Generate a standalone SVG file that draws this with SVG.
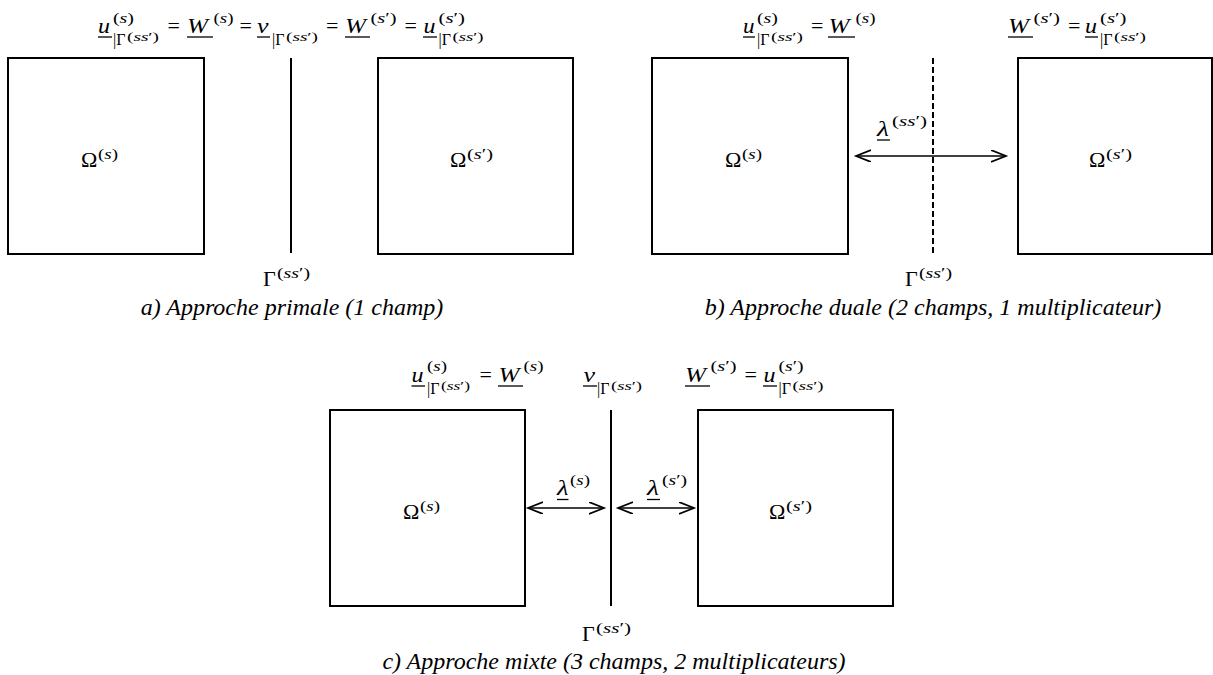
<svg xmlns="http://www.w3.org/2000/svg" width="1213" height="675" viewBox="0 0 1213 675">
<style>
text{font-family:"Liberation Serif","DejaVu Serif",serif;fill:#000}
.m{font-size:22px;font-style:italic}
.r{font-size:22px}
.sp{font-size:15px}
.sb{font-size:16px}
.ss{font-size:12px}
.i{font-style:italic}
.cap{font-size:24px;font-style:italic;text-anchor:middle}
.box{fill:none;stroke:#000;stroke-width:2}
.ln{stroke:#000;stroke-width:2}
.ul{stroke:#000;stroke-width:1.3}
.dash{stroke:#000;stroke-width:2;stroke-dasharray:6 3}
.arr{stroke:#000;stroke-width:1.7;fill:none;marker-start:url(#ah);marker-end:url(#ah)}
</style>
<defs>
<marker id="ah" markerUnits="userSpaceOnUse" markerWidth="18" markerHeight="14" refX="15" refY="6" orient="auto-start-reverse" viewBox="0 0 18 14">
<path d="M0,0 L15,6 L0,12" fill="none" stroke="#000" stroke-width="1.7"/>
</marker>
</defs>

<!-- a) -->
<g id="a-omega-s">
<rect class="box" x="8" y="58" width="196" height="196"/>
<text class="r" x="81" y="167">Ω</text>
<text class="sp" x="98" y="159" textLength="20" lengthAdjust="spacingAndGlyphs">(<tspan class="i">s</tspan>)</text>
</g>
<g id="a-gamma">
<line class="ln" x1="291" y1="58" x2="291" y2="253"/>
<text class="r" x="263" y="286">Γ</text>
<text class="sp" x="277" y="278" textLength="33" lengthAdjust="spacingAndGlyphs">(<tspan class="i">ss</tspan>′)</text>
</g>
<g id="a-omega-s2">
<rect class="box" x="378" y="58" width="195" height="196"/>
<text class="r" x="450" y="167">Ω</text>
<text class="sp" x="467" y="159" textLength="26" lengthAdjust="spacingAndGlyphs">(<tspan class="i">s</tspan>′)</text>
</g>
<g id="a-formula">
<text class="m" x="98" y="33" textLength="12" lengthAdjust="spacingAndGlyphs">u</text><line class="ul" x1="98" y1="37" x2="112" y2="37"/>
<text class="sp" x="113" y="23" textLength="21" lengthAdjust="spacingAndGlyphs">(<tspan class="i">s</tspan>)</text>
<text class="sb" x="113" y="45">|Γ</text><text class="ss" x="127" y="41" textLength="32" lengthAdjust="spacingAndGlyphs">(<tspan class="i">ss</tspan>′)</text>
<text class="r" x="167.5" y="33">=</text>
<text class="m" x="187" y="33" textLength="21" lengthAdjust="spacingAndGlyphs">W</text><line class="ul" x1="187" y1="37" x2="213" y2="37"/>
<text class="sp" x="213.5" y="23" textLength="20" lengthAdjust="spacingAndGlyphs">(<tspan class="i">s</tspan>)</text>
<text class="r" x="239.5" y="33">=</text>
<text class="m" x="257" y="33" textLength="11.5" lengthAdjust="spacingAndGlyphs">v</text><line class="ul" x1="257" y1="37" x2="270" y2="37"/>
<text class="sb" x="272" y="45">|Γ</text><text class="ss" x="286" y="41" textLength="32" lengthAdjust="spacingAndGlyphs">(<tspan class="i">ss</tspan>′)</text>
<text class="r" x="326" y="33">=</text>
<text class="m" x="345" y="33" textLength="21" lengthAdjust="spacingAndGlyphs">W</text><line class="ul" x1="345" y1="37" x2="370" y2="37"/>
<text class="sp" x="370.5" y="23" textLength="26" lengthAdjust="spacingAndGlyphs">(<tspan class="i">s</tspan>′)</text>
<text class="r" x="404.5" y="33">=</text>
<text class="m" x="423.5" y="33" textLength="12" lengthAdjust="spacingAndGlyphs">u</text><line class="ul" x1="423" y1="37" x2="437" y2="37"/>
<text class="sp" x="438.5" y="23" textLength="26.5" lengthAdjust="spacingAndGlyphs">(<tspan class="i">s</tspan>′)</text>
<text class="sb" x="438.5" y="45">|Γ</text><text class="ss" x="452.5" y="41" textLength="31" lengthAdjust="spacingAndGlyphs">(<tspan class="i">ss</tspan>′)</text>
</g>
<text class="cap" x="292" y="315">a) Approche primale (1 champ)</text>

<!-- b) -->
<g id="b-omega-s">
<rect class="box" x="652" y="58" width="196" height="196"/>
<text class="r" x="725" y="167">Ω</text>
<text class="sp" x="742" y="159" textLength="20" lengthAdjust="spacingAndGlyphs">(<tspan class="i">s</tspan>)</text>
</g>
<g id="b-gamma">
<line class="dash" x1="933" y1="58" x2="933" y2="254"/>
<text class="r" x="905" y="286">Γ</text>
<text class="sp" x="919" y="278" textLength="33" lengthAdjust="spacingAndGlyphs">(<tspan class="i">ss</tspan>′)</text>
</g>
<g id="b-omega-s2">
<rect class="box" x="1018" y="58" width="194" height="196"/>
<text class="r" x="1089" y="167">Ω</text>
<text class="sp" x="1106" y="159" textLength="26" lengthAdjust="spacingAndGlyphs">(<tspan class="i">s</tspan>′)</text>
</g>
<g id="b-formula-left">
<text class="m" x="743" y="33" textLength="11.5" lengthAdjust="spacingAndGlyphs">u</text><line class="ul" x1="743" y1="37" x2="755" y2="37"/>
<text class="sp" x="757" y="23" textLength="21" lengthAdjust="spacingAndGlyphs">(<tspan class="i">s</tspan>)</text>
<text class="sb" x="757" y="45">|Γ</text><text class="ss" x="771" y="41" textLength="32" lengthAdjust="spacingAndGlyphs">(<tspan class="i">ss</tspan>′)</text>
<text class="r" x="811" y="33">=</text>
<text class="m" x="828.5" y="33" textLength="21" lengthAdjust="spacingAndGlyphs">W</text><line class="ul" x1="828" y1="37" x2="855" y2="37"/>
<text class="sp" x="855.5" y="23" textLength="20" lengthAdjust="spacingAndGlyphs">(<tspan class="i">s</tspan>)</text>
</g>
<g id="b-formula-right">
<text class="m" x="1008" y="33" textLength="21" lengthAdjust="spacingAndGlyphs">W</text><line class="ul" x1="1008" y1="37" x2="1033" y2="37"/>
<text class="sp" x="1033.5" y="23" textLength="26.5" lengthAdjust="spacingAndGlyphs">(<tspan class="i">s</tspan>′)</text>
<text class="r" x="1068" y="33">=</text>
<text class="m" x="1085" y="33" textLength="12" lengthAdjust="spacingAndGlyphs">u</text><line class="ul" x1="1085" y1="37" x2="1098" y2="37"/>
<text class="sp" x="1100" y="23" textLength="26.5" lengthAdjust="spacingAndGlyphs">(<tspan class="i">s</tspan>′)</text>
<text class="sb" x="1100" y="45">|Γ</text><text class="ss" x="1114" y="41" textLength="32" lengthAdjust="spacingAndGlyphs">(<tspan class="i">ss</tspan>′)</text>
</g>
<g id="b-lambda">
<text class="m" x="877" y="136" textLength="12" lengthAdjust="spacingAndGlyphs">λ</text><line class="ul" x1="877" y1="140" x2="890" y2="140"/>
<text class="sp" x="892" y="126" textLength="35" lengthAdjust="spacingAndGlyphs">(<tspan class="i">ss</tspan>′)</text>
</g>
<text class="cap" x="933" y="315">b) Approche duale (2 champs, 1 multiplicateur)</text>

<!-- c) -->
<g id="c-omega-s">
<rect class="box" x="330" y="410" width="195" height="196"/>
<text class="r" x="403" y="519">Ω</text>
<text class="sp" x="420" y="511" textLength="20" lengthAdjust="spacingAndGlyphs">(<tspan class="i">s</tspan>)</text>
</g>
<g id="c-gamma">
<line class="ln" x1="611" y1="410" x2="611" y2="606"/>
<text class="r" x="582" y="641">Γ</text>
<text class="sp" x="596" y="633" textLength="35" lengthAdjust="spacingAndGlyphs">(<tspan class="i">ss</tspan>′)</text>
</g>
<g id="c-omega-s2">
<rect class="box" x="698" y="410" width="195" height="196"/>
<text class="r" x="769" y="519">Ω</text>
<text class="sp" x="786" y="511" textLength="26" lengthAdjust="spacingAndGlyphs">(<tspan class="i">s</tspan>′)</text>
</g>
<g id="c-formula-left">
<text class="m" x="411.5" y="382" textLength="12" lengthAdjust="spacingAndGlyphs">u</text><line class="ul" x1="411.5" y1="386" x2="425" y2="386"/>
<text class="sp" x="427" y="371" textLength="20" lengthAdjust="spacingAndGlyphs">(<tspan class="i">s</tspan>)</text>
<text class="sb" x="427" y="394">|Γ</text><text class="ss" x="441" y="390" textLength="29" lengthAdjust="spacingAndGlyphs">(<tspan class="i">ss</tspan>′)</text>
<text class="r" x="479.5" y="382">=</text>
<text class="m" x="498.5" y="382" textLength="21" lengthAdjust="spacingAndGlyphs">W</text><line class="ul" x1="498" y1="386" x2="523" y2="386"/>
<text class="sp" x="523.5" y="371" textLength="20" lengthAdjust="spacingAndGlyphs">(<tspan class="i">s</tspan>)</text>
</g>
<g id="c-formula-mid">
<text class="m" x="583.5" y="382" textLength="11.5" lengthAdjust="spacingAndGlyphs">v</text><line class="ul" x1="583" y1="386" x2="597" y2="386"/>
<text class="sb" x="597" y="394">|Γ</text><text class="ss" x="611" y="390" textLength="31" lengthAdjust="spacingAndGlyphs">(<tspan class="i">ss</tspan>′)</text>
</g>
<g id="c-formula-right">
<text class="m" x="685" y="382" textLength="21" lengthAdjust="spacingAndGlyphs">W</text><line class="ul" x1="685" y1="386" x2="710" y2="386"/>
<text class="sp" x="710.5" y="371" textLength="26" lengthAdjust="spacingAndGlyphs">(<tspan class="i">s</tspan>′)</text>
<text class="r" x="744.5" y="382">=</text>
<text class="m" x="763.5" y="382" textLength="12" lengthAdjust="spacingAndGlyphs">u</text><line class="ul" x1="763" y1="386" x2="777" y2="386"/>
<text class="sp" x="778.5" y="371" textLength="25" lengthAdjust="spacingAndGlyphs">(<tspan class="i">s</tspan>′)</text>
<text class="sb" x="778.5" y="394">|Γ</text><text class="ss" x="792.5" y="390" textLength="31" lengthAdjust="spacingAndGlyphs">(<tspan class="i">ss</tspan>′)</text>
</g>
<g id="c-lambda-s">
<text class="m" x="557" y="495" textLength="11.5" lengthAdjust="spacingAndGlyphs">λ</text><line class="ul" x1="557" y1="499.5" x2="568.5" y2="499.5"/>
<text class="sp" x="570" y="485" textLength="20" lengthAdjust="spacingAndGlyphs">(<tspan class="i">s</tspan>)</text>
</g>
<g id="c-lambda-s2">
<text class="m" x="647" y="495" textLength="12" lengthAdjust="spacingAndGlyphs">λ</text><line class="ul" x1="647" y1="499.5" x2="660" y2="499.5"/>
<text class="sp" x="662" y="485" textLength="25" lengthAdjust="spacingAndGlyphs">(<tspan class="i">s</tspan>′)</text>
</g>
<text class="cap" x="614" y="669">c) Approche mixte (3 champs, 2 multiplicateurs)</text>

<g id="connectors">
<line class="arr" x1="856" y1="156" x2="1006" y2="156"/>
<line class="arr" x1="528" y1="508" x2="604" y2="508"/>
<line class="arr" x1="618" y1="508" x2="694" y2="508"/>
</g>
</svg>
